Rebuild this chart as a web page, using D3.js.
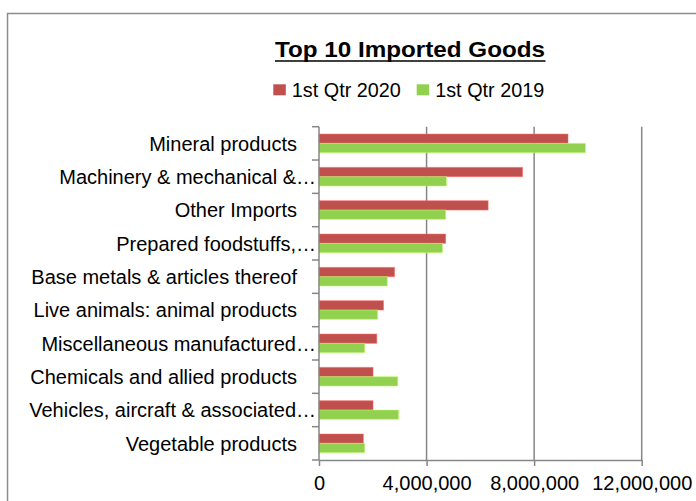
<!DOCTYPE html>
<html>
<head>
<meta charset="utf-8">
<script src="https://cdn.jsdelivr.net/npm/d3@7"></script>
<style>
  body { margin: 0; background: #fff; }
  text { font-family: "Liberation Sans", Arial, sans-serif; fill: #000; }
</style>
</head>
<body>
<div class="chart"></div>
<script>
const categories = [
  "Mineral products",
  "Machinery & mechanical &…",
  "Other Imports",
  "Prepared foodstuffs,…",
  "Base metals & articles thereof",
  "Live animals: animal products",
  "Miscellaneous manufactured…",
  "Chemicals and allied products",
  "Vehicles, aircraft & associated…",
  "Vegetable products"
];
const q2020 = [9260000, 7570000, 6290000, 4710000, 2810000, 2400000, 2150000, 2010000, 2010000, 1650000];
const q2019 = [9910000, 4740000, 4710000, 4590000, 2540000, 2180000, 1700000, 2930000, 2960000, 1700000];
const seriesNames = ["1st Qtr 2020", "1st Qtr 2019"];
const seriesColors = ["#C0504D", "#92D050"];
const xTicks = [0, 4000000, 8000000, 12000000];

const width = 696, height = 501;
const plot = {left: 319, right: 641.7, top: 126.7, bottom: 460};

const svg = d3.select(".chart")
  .append("svg")
  .attr("width", width)
  .attr("height", height);

// outer chart border (runs off the right and bottom edges)
svg.append("rect")
  .attr("x", 7.5)
  .attr("y", 13.5)
  .attr("width", 720)
  .attr("height", 520)
  .attr("fill", "none")
  .attr("stroke", "#8c8c8c")
  .attr("stroke-width", 1.5);

const data = categories.map((c, i) => ({cat: c, values: [q2020[i], q2019[i]]}));

const xScale = d3.scaleLinear()
  .domain([0, 12000000])
  .range([plot.left, plot.right]);

const yScale = d3.scaleBand()
  .domain(categories)
  .range([plot.top, plot.bottom])
  .paddingInner(0.44)
  .paddingOuter(0.22);

const ySub = d3.scaleBand()
  .domain([0, 1])
  .range([0, yScale.bandwidth()]);

// vertical gridlines
svg.append("g")
  .selectAll("line")
  .data(xTicks.slice(1))
  .join("line")
  .attr("x1", d => xScale(d))
  .attr("x2", d => xScale(d))
  .attr("y1", plot.top)
  .attr("y2", plot.bottom)
  .attr("stroke", "#868686")
  .attr("stroke-width", 1.5);

// bars
const groups = svg.append("g")
  .selectAll("g")
  .data(data)
  .join("g")
  .attr("transform", d => `translate(0,${yScale(d.cat)})`);

groups.selectAll("rect")
  .data(d => d.values)
  .join("rect")
  .attr("x", xScale(0))
  .attr("y", (d, i) => ySub(i))
  .attr("width", d => xScale(d) - xScale(0))
  .attr("height", ySub.bandwidth())
  .attr("fill", (d, i) => seriesColors[i])
  .attr("stroke", (d, i) => d3.color(seriesColors[i]).brighter(0.8))
  .attr("stroke-opacity", 0.5)
  .attr("stroke-width", 1);

// bottom axis
const xAxis = d3.axisBottom(xScale)
  .tickValues(xTicks)
  .tickFormat(d3.format(","))
  .tickSize(6)
  .tickSizeOuter(0);

svg.append("g")
  .attr("transform", `translate(0,${plot.bottom})`)
  .call(xAxis)
  .call(g => g.select(".domain").attr("stroke", "#868686").attr("stroke-width", 1.5))
  .call(g => g.selectAll(".tick line").attr("stroke", "#868686").attr("stroke-width", 1.5))
  .call(g => g.selectAll(".tick text")
    .attr("font-size", 20)
    .attr("font-family", "Liberation Sans, Arial, sans-serif")
    .attr("fill", "#000")
    .attr("dy", "1.05em"));

// left axis: line plus ticks at band boundaries
const boundaries = categories.map(c => yScale(c) - yScale.step() * yScale.paddingOuter())
  .concat([plot.bottom]);

svg.append("line")
  .attr("x1", plot.left)
  .attr("x2", plot.left)
  .attr("y1", plot.top)
  .attr("y2", plot.bottom)
  .attr("stroke", "#868686")
  .attr("stroke-width", 1.5);

svg.append("g")
  .selectAll("line")
  .data(boundaries)
  .join("line")
  .attr("x1", plot.left - 7)
  .attr("x2", plot.left)
  .attr("y1", d => d)
  .attr("y2", d => d)
  .attr("stroke", "#868686")
  .attr("stroke-width", 1.5);

// category labels
svg.append("g")
  .selectAll("text")
  .data(categories)
  .join("text")
  .attr("x", d => d.endsWith("…") ? 316 : 297)
  .attr("y", d => yScale(d) + yScale.bandwidth() / 2)
  .attr("dy", "0.36em")
  .attr("text-anchor", "end")
  .attr("font-size", 20)
  .text(d => d);

// title
svg.append("text")
  .attr("x", 275)
  .attr("y", 57.3)
  .attr("font-size", 22)
  .attr("font-weight", "bold")
  .attr("textLength", 270)
  .attr("lengthAdjust", "spacingAndGlyphs")
  .text("Top 10 Imported Goods");

svg.append("line")
  .attr("x1", 275)
  .attr("x2", 545.5)
  .attr("y1", 61)
  .attr("y2", 61)
  .attr("stroke", "#000")
  .attr("stroke-width", 1.6);

// legend
const legendX = [273.3, 416.7];
const legend = svg.append("g")
  .selectAll("g")
  .data(seriesNames)
  .join("g")
  .attr("transform", (d, i) => `translate(${legendX[i]},84.3)`);

legend.append("rect")
  .attr("width", 12.5)
  .attr("height", 11)
  .attr("fill", (d, i) => seriesColors[i]);

legend.append("text")
  .attr("x", 18.5)
  .attr("y", 12.4)
  .attr("font-size", 20)
  .attr("textLength", 109)
  .attr("lengthAdjust", "spacingAndGlyphs")
  .text(d => d);
</script>
</body>
</html>
